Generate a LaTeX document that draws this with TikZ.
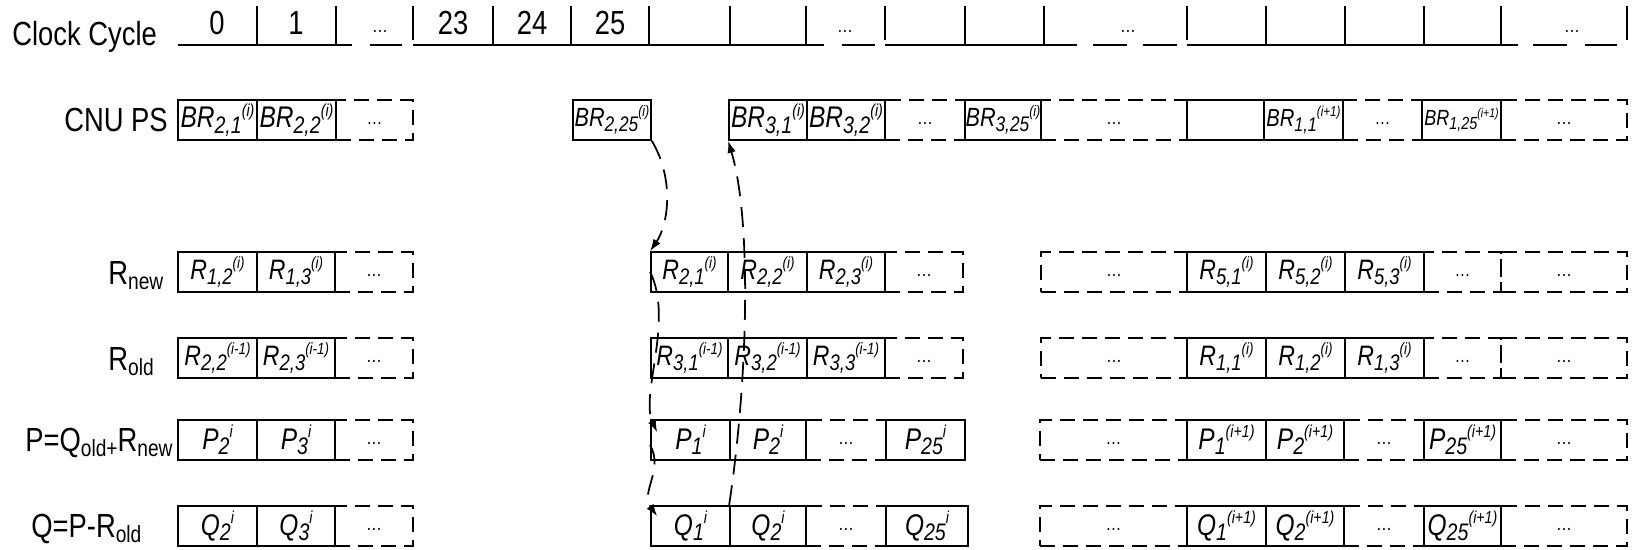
\documentclass[tikz,border=0pt]{standalone}
\usepackage{fontspec}
\setmainfont{Liberation Sans}[FakeStretch=0.82]
\usepackage{graphicx}
\usetikzlibrary{arrows.meta,calc}

% value label: base, subscript, superscript after it
\newcommand\vlab[3]{\textit{#1\raisebox{-0.35ex}{\scalebox{0.8}{#2}}\raisebox{0.75ex}{\scalebox{0.58}{#3}}}}
\newcommand\lsub[1]{\raisebox{-0.3ex}{\scalebox{0.7}{#1}}}

\begin{document}
\begin{tikzpicture}[x=0.02cm, y=-0.02cm,
  >={Latex[length=0.24cm, width=0.17cm]},
  lbl/.style={font=\fontsize{19}{22}\selectfont, inner sep=0pt},
  cell/.style={draw, line width=1pt, minimum height=0.8cm, inner sep=0pt,
               font=\fontsize{16}{18}\selectfont},
  cw/.style={minimum width=#1*0.02cm},
  dcell/.style={cell, dash pattern=on 0.3cm off 0.16cm,
                font=\fontsize{11}{12}\selectfont},
  brf/.style={font=\fontsize{17}{19}\selectfont},
  pqf/.style={font=\fontsize{17}{19}\selectfont},
  tl/.style={line width=1pt},
  flow/.style={->, line width=1pt, dash pattern=on 0.4cm off 0.22cm},
]
\useasboundingbox (0,0) rectangle (1637,549);

%-- Clock cycle time line
\node[lbl, anchor=base west] (clk) at (12,45) {Clock Cycle};
\draw[tl] (178,45) -- (352,45);
\foreach \x in {257,336} \draw[tl] (\x,6) -- (\x,45);
\draw[tl] (370,45) -- (402,45);
\draw[tl] (413,6) -- (413,40);
\draw[tl] (413,45) -- (824,45);
\foreach \x in {493,571,649,730,806} \draw[tl] (\x,6) -- (\x,45);
\draw[tl] (842,45) -- (875,45);
\draw[tl] (885,6) -- (885,40);
\draw[tl] (885,45) -- (1077,45);
\foreach \x in {965,1044} \draw[tl] (\x,6) -- (\x,45);
\draw[tl] (1093,45) -- (1127,45);
\draw[tl] (1143,45) -- (1177,45);
\draw[tl] (1187,6) -- (1187,40);
\draw[tl] (1187,45) -- (1518,45);
\foreach \x in {1266,1345,1424,1501} \draw[tl] (\x,6) -- (\x,45);
\draw[tl] (1533,45) -- (1567,45);
\draw[tl] (1585,45) -- (1617,45);
\draw[tl] (1627,6) -- (1627,40);

\node[lbl] (c0)  at (217,23) {0};
\node[lbl] (c1)  at (296,23) {1};
\node[lbl] (c23) at (453,23) {23};
\node[lbl] (c24) at (532,23) {24};
\node[lbl] (c25) at (610,23) {25};
\node[font=\fontsize{11}{12}\selectfont] (cd1) at (380,31) {\ldots};
\node[font=\fontsize{11}{12}\selectfont] (cd2) at (845,31) {\ldots};
\node[font=\fontsize{11}{12}\selectfont] (cd3) at (1128,31) {\ldots};
\node[font=\fontsize{11}{12}\selectfont] (cd4) at (1572,31) {\ldots};

%-- Row labels
\node[lbl, anchor=base west] (lcnu) at (64,131)  {CNU PS};
\node[lbl, anchor=base west] (lrn)  at (108,284) {R\lsub{new}};
\node[lbl, anchor=base west] (lro)  at (108,370) {R\lsub{old}};
\node[lbl, anchor=base west] (lp)   at (25,451)  {P=Q\lsub{old+}R\lsub{new}};
\node[lbl, anchor=base west] (lq)   at (31,537)  {Q=P-R\lsub{old}};

%-- CNU PS
\node[cell, cw=79, brf] (br21)  at (217.5,120) {\vlab{BR}{2,1}{(i)}};
\node[cell, cw=79, brf] (br22)  at (296.5,120) {\vlab{BR}{2,2}{(i)}};
\node[dcell, cw=77]     (brd1)  at (374.5,120) {\strut\ldots};
\node[cell, cw=78, font=\fontsize{15}{17}\selectfont] (br225) at (612,120) {\vlab{BR}{2,25}{(i)}};
\node[cell, cw=78, brf] (br31)  at (768,120)   {\vlab{BR}{3,1}{(i)}};
\node[cell, cw=78, brf] (br32)  at (846,120)   {\vlab{BR}{3,2}{(i)}};
\node[dcell, cw=80]     (brd2)  at (925,120)   {\strut\ldots};
\node[cell, cw=76, font=\fontsize{15}{17}\selectfont] (br325) at (1003,120) {\vlab{BR}{3,25}{(i)}};
\node[dcell, cw=146]    (brd3)  at (1114,120)  {\strut\ldots};
\node[cell, cw=77]      (brx)   at (1225.5,120) {};
\node[cell, cw=79, font=\fontsize{14}{16}\selectfont] (br11) at (1303.5,120) {\vlab{BR}{1,1}{(i+1)}};
\node[dcell, cw=79]     (brd4)  at (1382.5,120) {\strut\ldots};
\node[cell, cw=79, font=\fontsize{12.5}{14}\selectfont] (br125) at (1461.5,120) {\vlab{BR}{1,25}{(i+1)}};
\node[dcell, cw=126]    (brd5)  at (1564,120)  {\strut\ldots};

%-- R new
\node[cell, cw=79]  (r12n) at (217.5,272)  {\vlab{R}{1,2}{(i)}};
\node[cell, cw=78]  (r13n) at (296,272)    {\vlab{R}{1,3}{(i)}};
\node[dcell, cw=78] (rnd1) at (374,272)    {\strut\ldots};
\node[cell, cw=77]  (r21n) at (689.5,272)  {\vlab{R}{2,1}{(i)}};
\node[cell, cw=79]  (r22n) at (767.5,272)  {\vlab{R}{2,2}{(i)}};
\node[cell, cw=78]  (r23n) at (846,272)    {\vlab{R}{2,3}{(i)}};
\node[dcell, cw=78] (rnd2) at (924,272)    {\strut\ldots};
\node[dcell, cw=146] (rnd3) at (1114,272)  {\strut\ldots};
\node[cell, cw=79]  (r51n) at (1226.5,272) {\vlab{R}{5,1}{(i)}};
\node[cell, cw=79]  (r52n) at (1305.5,272) {\vlab{R}{5,2}{(i)}};
\node[cell, cw=79]  (r53n) at (1384.5,272) {\vlab{R}{5,3}{(i)}};
\node[dcell, cw=77] (rnd4) at (1462.5,272) {\strut\ldots};
\node[dcell, cw=126] (rnd5) at (1564,272)  {\strut\ldots};

%-- R old
\node[cell, cw=79]  (r22o) at (217.5,358)  {\vlab{R}{2,2}{(i-1)}};
\node[cell, cw=78]  (r23o) at (296,358)    {\vlab{R}{2,3}{(i-1)}};
\node[dcell, cw=78] (rod1) at (374,358)    {\strut\ldots};
\node[cell, cw=77]  (r31o) at (689.5,358)  {\vlab{R}{3,1}{(i-1)}};
\node[cell, cw=79]  (r32o) at (767.5,358)  {\vlab{R}{3,2}{(i-1)}};
\node[cell, cw=78]  (r33o) at (846,358)    {\vlab{R}{3,3}{(i-1)}};
\node[dcell, cw=78] (rod2) at (924,358)    {\strut\ldots};
\node[dcell, cw=146] (rod3) at (1114,358)  {\strut\ldots};
\node[cell, cw=79]  (r11o) at (1226.5,358) {\vlab{R}{1,1}{(i)}};
\node[cell, cw=79]  (r12o) at (1305.5,358) {\vlab{R}{1,2}{(i)}};
\node[cell, cw=79]  (r13o) at (1384.5,358) {\vlab{R}{1,3}{(i)}};
\node[dcell, cw=77] (rod4) at (1462.5,358) {\strut\ldots};
\node[dcell, cw=126] (rod5) at (1564,358)  {\strut\ldots};

%-- P = Q old + R new
\node[cell, cw=79, pqf] (p2l)  at (217.5,440)  {\vlab{P}{2}{i}};
\node[cell, cw=78, pqf] (p3l)  at (296,440)    {\vlab{P}{3}{i}};
\node[dcell, cw=78]     (pd1)  at (374,440)    {\strut\ldots};
\node[cell, cw=79, pqf] (p1)   at (690.5,440)  {\vlab{P}{1}{i}};
\node[cell, cw=76, pqf] (p2)   at (768,440)    {\vlab{P}{2}{i}};
\node[dcell, cw=80]     (pd2)  at (846,440)    {\strut\ldots};
\node[cell, cw=79, pqf] (p25)  at (925.5,440)  {\vlab{P}{25}{i}};
\node[dcell, cw=147]    (pd3)  at (1113.5,440) {\strut\ldots};
\node[cell, cw=79, pqf] (p1b)  at (1226.5,440) {\vlab{P}{1}{(i+1)}};
\node[cell, cw=78, pqf] (p2b)  at (1305,440)   {\vlab{P}{2}{(i+1)}};
\node[dcell, cw=80]     (pd4)  at (1384,440)   {\strut\ldots};
\node[cell, cw=77, pqf] (p25b) at (1462.5,440) {\vlab{P}{25}{(i+1)}};
\node[dcell, cw=126]    (pd5)  at (1564,440)   {\strut\ldots};

%-- Q = P - R old
\node[cell, cw=79, pqf] (q2l)  at (217.5,526)  {\vlab{Q}{2}{i}};
\node[cell, cw=78, pqf] (q3l)  at (296,526)    {\vlab{Q}{3}{i}};
\node[dcell, cw=78]     (qd1)  at (374,526)    {\strut\ldots};
\node[cell, cw=79, pqf] (q1)   at (690.5,526)  {\vlab{Q}{1}{i}};
\node[cell, cw=76, pqf] (q2)   at (768,526)    {\vlab{Q}{2}{i}};
\node[dcell, cw=80]     (qd2)  at (846,526)    {\strut\ldots};
\node[cell, cw=82, pqf] (q25)  at (927,526)    {\vlab{Q}{25}{i}};
\node[dcell, cw=147]    (qd3)  at (1113.5,526) {\strut\ldots};
\node[cell, cw=79, pqf] (q1b)  at (1226.5,526) {\vlab{Q}{1}{(i+1)}};
\node[cell, cw=78, pqf] (q2b)  at (1305,526)   {\vlab{Q}{2}{(i+1)}};
\node[dcell, cw=80]     (qd4)  at (1384,526)   {\strut\ldots};
\node[cell, cw=77, pqf] (q25b) at (1462.5,526) {\vlab{Q}{25}{(i+1)}};
\node[dcell, cw=126]    (qd5)  at (1564,526)   {\strut\ldots};

%-- data flow
\coordinate (pin) at ($(p1.north west)+(7,13)$);
\coordinate (pout) at ($(p1.north west)+(0,26)$);
\coordinate (qin) at ($(q1.north west)+(7,11)$);
\draw[flow] (br225.south east) .. controls (675,180) and (668,225) .. (r21n.north west);
\draw[flow] (r21n.west) .. controls (674,320) and (640,395) .. (pin);
\draw[flow] (pout) .. controls (664,470) and (640,492) .. (qin);
\draw[flow] (q2.north west) .. controls (748,380) and (752,220) .. (br31.south west);

\end{tikzpicture}
\end{document}
